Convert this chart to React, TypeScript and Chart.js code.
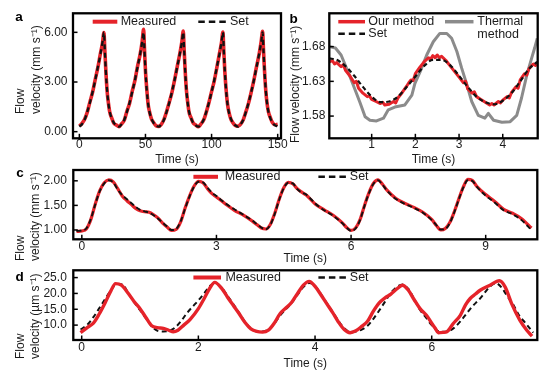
import React, { useEffect, useRef } from 'react';
import { Chart, registerables } from 'chart.js';

Chart.register(...registerables);

const FONT = "'Liberation Sans', Arial, Helvetica, sans-serif";
const RED = '#e5232a';
const BLACK = '#111111';
const GRAY = '#8b8b8b';
const TEXT = '#1c1c1c';

// ---------------- Panel a ----------------
const aTime = [
  0, 2, 4, 6, 8, 10, 12, 14, 16, 17.5, 18.6, 19.2, 20, 21, 22, 23, 24.5, 26, 28,
  30, 32, 34, 36, 38, 40, 42, 44, 46, 47.5, 48.6, 49.2, 50, 51, 52, 53, 54.5, 56, 58,
  60, 62, 64, 66, 68, 70, 72, 74, 76, 77.5, 78.6, 79.2, 80, 81, 82, 83, 84.5, 86, 88,
  90, 92, 94, 96, 98, 100, 102, 104, 106, 107.5, 108.6, 109.2, 110, 111, 112, 113, 114.5, 116, 118,
  120, 122, 124, 126, 128, 130, 132, 134, 136, 137.5, 138.6, 139.2, 140, 141, 142, 143, 144.5, 146, 148,
  150,
];
const aSet = [
  0.30, 0.45, 0.72, 1.20, 1.75, 2.40, 3.10, 3.90, 4.70, 5.40, 6.00, 5.00, 3.70, 2.50, 1.70, 1.20, 0.80, 0.55, 0.38,
  0.30, 0.45, 0.72, 1.20, 1.75, 2.40, 3.10, 3.90, 4.70, 5.40, 6.00, 5.00, 3.70, 2.50, 1.70, 1.20, 0.80, 0.55, 0.38,
  0.30, 0.45, 0.72, 1.20, 1.75, 2.40, 3.10, 3.90, 4.70, 5.40, 6.00, 5.00, 3.70, 2.50, 1.70, 1.20, 0.80, 0.55, 0.38,
  0.30, 0.45, 0.72, 1.20, 1.75, 2.40, 3.10, 3.90, 4.70, 5.40, 6.00, 5.00, 3.70, 2.50, 1.70, 1.20, 0.80, 0.55, 0.38,
  0.30, 0.45, 0.72, 1.20, 1.75, 2.40, 3.10, 3.90, 4.70, 5.40, 6.00, 5.00, 3.70, 2.50, 1.70, 1.20, 0.80, 0.55, 0.38,
  0.32,
];
const aMeasured = [
  0.34, 0.50, 0.75, 1.18, 1.80, 2.38, 3.15, 3.88, 4.75, 5.35, 5.98, 5.05, 3.75, 2.45, 1.72, 1.18, 0.82, 0.52, 0.40,
  0.30, 0.48, 0.70, 1.24, 1.72, 2.45, 3.08, 3.95, 4.68, 5.45, 6.18, 5.10, 3.68, 2.55, 1.66, 1.22, 0.78, 0.57, 0.36,
  0.32, 0.44, 0.74, 1.22, 1.78, 2.36, 3.12, 3.92, 4.72, 5.42, 6.08, 5.02, 3.72, 2.48, 1.74, 1.16, 0.83, 0.54, 0.40,
  0.30, 0.47, 0.70, 1.18, 1.76, 2.42, 3.06, 3.88, 4.74, 5.38, 6.02, 4.96, 3.66, 2.52, 1.70, 1.22, 0.78, 0.56, 0.37,
  0.33, 0.46, 0.73, 1.21, 1.74, 2.40, 3.12, 3.93, 4.70, 5.44, 6.06, 5.04, 3.74, 2.46, 1.68, 1.20, 0.84, 0.55, 0.42,
  0.45,
];
const aXTicks = [0, 50, 100, 150];
const aXTickLabels = ['0', '50', '100', '150'];
const aYTicks = [0, 3, 6];
const aYTickLabels = ['0.00', '3.00', '6.00'];

// ---------------- Panel b ----------------
const bSetTime = [0.03, 0.2, 0.4, 0.6, 0.8, 1.0, 1.2, 1.4, 1.6, 1.8, 2.0, 2.2, 2.4, 2.6, 2.8, 3.0, 3.2, 3.4, 3.6, 3.8, 4.0, 4.2, 4.4, 4.6, 4.79];
const bSet = [1.663, 1.661, 1.652, 1.638, 1.622, 1.608, 1.600, 1.601, 1.608, 1.622, 1.637, 1.652, 1.661, 1.661, 1.653, 1.638, 1.622, 1.608, 1.600, 1.597, 1.602, 1.613, 1.630, 1.648, 1.658];
const bOurTime = [
  0.03, 0.1, 0.15, 0.2, 0.3, 0.35, 0.4, 0.5, 0.6, 0.65, 0.7, 0.8, 0.9, 0.95, 1.0, 1.1, 1.2, 1.25, 1.3, 1.4,
  1.5, 1.55, 1.6, 1.7, 1.8, 1.85, 1.9, 1.95, 2.0, 2.1, 2.2, 2.3, 2.35, 2.4, 2.45, 2.5, 2.55, 2.6, 2.7, 2.8,
  2.9, 3.0, 3.1, 3.15, 3.2, 3.3, 3.35, 3.4, 3.5, 3.6, 3.7, 3.75, 3.8, 3.9, 3.95, 4.0, 4.1, 4.15, 4.2, 4.3,
  4.35, 4.4, 4.5, 4.55, 4.6, 4.7, 4.75, 4.79,
];
const bOur = [
  1.658, 1.660, 1.655, 1.657, 1.651, 1.654, 1.646, 1.638, 1.628, 1.630, 1.620, 1.613, 1.608, 1.609, 1.604, 1.601, 1.598, 1.600, 1.596, 1.597,
  1.601, 1.599, 1.606, 1.614, 1.623, 1.628, 1.632, 1.631, 1.641, 1.650, 1.658, 1.664, 1.662, 1.667, 1.664, 1.668, 1.664, 1.666, 1.660, 1.652,
  1.644, 1.636, 1.628, 1.630, 1.619, 1.613, 1.615, 1.608, 1.604, 1.600, 1.596, 1.598, 1.596, 1.601, 1.599, 1.603, 1.608, 1.606, 1.614, 1.622,
  1.620, 1.632, 1.641, 1.639, 1.648, 1.655, 1.653, 1.657,
];
const bThermTime = [0.03, 0.17, 0.3, 0.47, 0.62, 0.73, 0.85, 0.96, 1.11, 1.27, 1.38, 1.53, 1.76, 1.92, 1.99, 2.11, 2.26, 2.41, 2.56, 2.72, 2.83, 2.95, 3.06, 3.18, 3.29, 3.44, 3.59, 3.67, 3.79, 3.98, 4.17, 4.32, 4.43, 4.55, 4.66, 4.73, 4.79];
const bThermal = [1.680, 1.678, 1.668, 1.642, 1.618, 1.600, 1.579, 1.574, 1.573, 1.577, 1.589, 1.593, 1.596, 1.610, 1.627, 1.644, 1.668, 1.687, 1.699, 1.699, 1.692, 1.673, 1.649, 1.625, 1.601, 1.581, 1.577, 1.584, 1.574, 1.571, 1.572, 1.581, 1.606, 1.639, 1.663, 1.678, 1.692];
const bXTicks = [1, 2, 3, 4];
const bXTickLabels = ['1', '2', '3', '4'];
const bYTicks = [1.58, 1.63, 1.68];
const bYTickLabels = ['1.58', '1.63', '1.68'];

// ---------------- Panel c ----------------
const cTime = [
  -0.12, 0, 0.1, 0.2, 0.3, 0.4, 0.5, 0.6, 0.7, 0.8, 0.9, 1.0, 1.1, 1.2, 1.3, 1.4, 1.5, 1.6, 1.7, 1.8, 1.9, 2.0,
  2.1, 2.2, 2.3, 2.4, 2.5, 2.6, 2.7, 2.8, 2.9, 3.0, 3.2, 3.4, 3.6, 3.8, 3.9, 4.0, 4.1,
  4.2, 4.3, 4.4, 4.5, 4.6, 4.7, 4.8, 4.9, 5.0, 5.2, 5.4, 5.6, 5.8, 5.9, 6.0,
  6.1, 6.2, 6.3, 6.4, 6.5, 6.6, 6.7, 6.8, 7.0, 7.2, 7.4, 7.6, 7.8, 7.9, 8.0,
  8.1, 8.2, 8.3, 8.4, 8.5, 8.6, 8.7, 8.8, 9.0, 9.2, 9.4, 9.6, 9.8, 10.02,
];
const cSet = [
  0.98, 0.99, 1.03, 1.22, 1.52, 1.79, 1.95, 2.01, 1.97, 1.82, 1.71, 1.63, 1.55, 1.47, 1.41, 1.38, 1.35, 1.30, 1.23, 1.15, 1.07, 1.00,
  1.02, 1.17, 1.43, 1.68, 1.88, 1.98, 1.97, 1.86, 1.76, 1.69, 1.54, 1.42, 1.31, 1.19, 1.12, 1.05, 1.01,
  1.10, 1.33, 1.62, 1.85, 1.96, 1.95, 1.83, 1.76, 1.72, 1.54, 1.40, 1.29, 1.14, 1.05, 0.98,
  1.03, 1.20, 1.49, 1.75, 1.94, 2.01, 1.92, 1.80, 1.63, 1.53, 1.45, 1.35, 1.20, 1.10, 1.01,
  1.02, 1.14, 1.36, 1.62, 1.86, 2.01, 2.00, 1.88, 1.70, 1.56, 1.40, 1.32, 1.20, 1.00,
];
const cMeasured = [
  0.97, 0.98, 1.02, 1.21, 1.53, 1.80, 1.96, 2.02, 1.98, 1.84, 1.69, 1.60, 1.52, 1.44, 1.39, 1.37, 1.36, 1.31, 1.24, 1.14, 1.06, 0.99,
  1.01, 1.16, 1.44, 1.69, 1.89, 1.99, 1.96, 1.84, 1.74, 1.67, 1.53, 1.40, 1.30, 1.18, 1.11, 1.04, 1.02,
  1.11, 1.34, 1.63, 1.86, 1.97, 1.94, 1.84, 1.77, 1.71, 1.53, 1.41, 1.30, 1.15, 1.05, 0.99,
  1.04, 1.21, 1.50, 1.76, 1.95, 2.02, 1.93, 1.81, 1.64, 1.54, 1.46, 1.36, 1.21, 1.09, 1.00,
  1.03, 1.15, 1.37, 1.63, 1.87, 2.03, 2.01, 1.89, 1.72, 1.58, 1.42, 1.34, 1.23, 1.04,
];
const cXTicks = [0, 3, 6, 9];
const cXTickLabels = ['0', '3', '6', '9'];
const cYTicks = [1, 1.5, 2];
const cYTickLabels = ['1.00', '1.50', '2.00'];

// ---------------- Panel d ----------------
const dSetTime = [
  -0.02, 0.1, 0.2, 0.3, 0.4, 0.5, 0.6, 0.7, 0.8, 0.9, 1.0, 1.1, 1.2, 1.3, 1.4, 1.5, 1.6, 1.7, 1.8, 1.9,
  2.0, 2.1, 2.2, 2.3, 2.4, 2.5, 2.6, 2.7, 2.8, 2.9, 3.0, 3.1, 3.2, 3.3, 3.4, 3.5, 3.6, 3.7, 3.8, 3.9,
  4.0, 4.1, 4.2, 4.3, 4.4, 4.5, 4.6, 4.7, 4.8, 4.9, 5.0, 5.1, 5.2, 5.3, 5.4, 5.5, 5.6, 5.7, 5.8, 5.9,
  6.0, 6.1, 6.2, 6.3, 6.4, 6.5, 6.6, 6.7, 6.8, 6.9, 7.0, 7.1, 7.2, 7.3, 7.4, 7.5, 7.6, 7.74,
];
const dSet = [
  8.6, 10.2, 12.5, 15.3, 18.2, 21.0, 23.0, 22.8, 20.0, 17.2, 14.7, 12.2, 9.6, 8.2, 8.0, 8.2, 9.2, 11.2, 13.7, 15.8,
  17.8, 20.0, 22.4, 23.2, 21.8, 19.2, 16.6, 13.8, 11.0, 9.0, 8.0, 8.0, 8.6, 10.4, 13.0, 15.0, 17.0, 19.6, 22.0, 23.3,
  22.4, 19.8, 17.0, 14.2, 11.4, 9.0, 7.9, 8.0, 8.6, 9.8, 12.0, 14.6, 17.4, 20.2, 22.0, 22.8, 21.4, 18.2, 14.8, 12.4,
  10.0, 8.2, 7.9, 8.2, 9.4, 11.4, 13.7, 16.0, 17.8, 20.0, 22.2, 23.2, 21.8, 19.0, 16.4, 13.0, 10.8, 7.6,
];
const dMeasTime = [
  -0.02, 0.1, 0.2, 0.3, 0.4, 0.5, 0.58, 0.68, 0.8, 0.9, 1.0, 1.1, 1.2, 1.3, 1.4, 1.5, 1.57, 1.65, 1.75, 1.86,
  2.0, 2.1, 2.2, 2.28, 2.4, 2.5, 2.6, 2.7, 2.8, 2.9, 3.0, 3.1, 3.2, 3.3, 3.4, 3.5, 3.6, 3.7, 3.8, 3.9,
  4.0, 4.1, 4.2, 4.3, 4.4, 4.5, 4.6, 4.7, 4.8, 4.9, 5.0, 5.1, 5.2, 5.3, 5.4, 5.5, 5.6, 5.7, 5.8, 5.91,
  6.0, 6.06, 6.11, 6.2, 6.26, 6.37, 6.49, 6.58, 6.66, 6.75, 6.83, 7.0, 7.16, 7.26, 7.37, 7.51, 7.63, 7.72,
];
const dMeasured = [
  7.6, 9.3, 10.6, 13.5, 17.0, 20.8, 23.1, 22.6, 20.0, 17.4, 15.2, 12.4, 9.8, 9.2, 9.0, 8.3, 7.9, 8.4, 10.0, 11.8,
  15.2, 18.4, 21.8, 23.5, 21.6, 18.8, 16.2, 13.6, 10.8, 8.8, 8.0, 7.8, 8.4, 10.6, 13.6, 15.4, 17.2, 20.0, 22.6, 23.8,
  22.2, 19.6, 16.8, 14.0, 11.0, 8.6, 7.6, 8.2, 9.6, 11.2, 14.4, 17.0, 18.6, 19.8, 21.4, 22.6, 21.0, 18.0, 15.2, 13.1,
  10.6, 9.0, 7.6, 7.7, 7.9, 10.5, 13.1, 16.4, 18.4, 19.8, 21.0, 22.6, 24.0, 22.0, 16.8, 11.6, 8.4, 6.5,
];
const dXTicks = [0, 2, 4, 6];
const dXTickLabels = ['0', '2', '4', '6'];
const dYTicks = [10, 15, 20, 25];
const dYTickLabels = ['10.0', '15.0', '20.0', '25.0'];

const X_TITLE = 'Time (s)';
const Y_TITLE_MM = ['Flow', 'velocity (mm s\u207B\u00B9)'];
const Y_TITLE_B = ['Flow velocity (mm s\u207B\u00B9)'];
const Y_TITLE_UM = ['Flow', 'velocity (\u00B5m s\u207B\u00B9)'];

// ---------------- helpers ----------------
function series(xs: number[], ys: number[], color: string, width: number, dash: number[], order: number, smooth: boolean) {
  const n = Math.min(xs.length, ys.length);
  const data = [] as { x: number; y: number }[];
  for (let i = 0; i < n; i++) data.push({ x: xs[i], y: ys[i] });
  return {
    data,
    borderColor: color,
    backgroundColor: color,
    borderWidth: width,
    borderDash: dash,
    borderCapStyle: 'butt',
    borderJoinStyle: 'round',
    pointRadius: 0,
    fill: false,
    order,
    cubicInterpolationMode: smooth ? 'monotone' : 'default',
    tension: 0,
  };
}

const PANELS: any[] = [
  {
    key: 'a',
    box: { x: 0, y: 0, w: 300, h: 172 },
    padding: { left: 0, top: 13.3, right: 19, bottom: 5.3 },
    yAxisWidth: 73, xAxisHeight: 28.4,
    xMin: -4.8, xMax: 152.5, yMin: -0.4, yMax: 7.15,
    xTicks: aXTicks, xTickLabels: aXTickLabels, yTicks: aYTicks, yTickLabels: aYTickLabels,
    xTickPad: 0.2, yTickPad: 5.5,
    datasets: [
      series(aTime, aSet, BLACK, 2.3, [5, 3.5], 0, true),
      series(aTime, aMeasured, RED, 3.6, [], 1, true),
    ],
    yTitle: { lines: Y_TITLE_MM, xs: [21, 36.5], yStart: 114 },
    letter: { text: 'a', x: 19, y: 17 },
    legend: [
      { label: ['Measured'], color: RED, width: 4, dash: [], x1: 92.7, x2: 117.3, y: 21.7, tx: 120.7 },
      { label: ['Set'], color: BLACK, width: 2.5, dash: [6.5, 4], x1: 198.3, x2: 226.7, y: 21.7, tx: 230 },
    ],
  },
  {
    key: 'b',
    box: { x: 280, y: 0, w: 276, h: 172 },
    padding: { left: 0, top: 13.3, right: 18.3, bottom: 5.3 },
    yAxisWidth: 49.3, xAxisHeight: 28.4,
    xMin: 0.03, xMax: 4.8, yMin: 1.548, yMax: 1.728,
    xTicks: bXTicks, xTickLabels: bXTickLabels, yTicks: bYTicks, yTickLabels: bYTickLabels,
    xTickPad: 0.2, yTickPad: 4,
    datasets: [
      series(bSetTime, bSet, BLACK, 2.2, [4.5, 3], 0, true),
      series(bOurTime, bOur, RED, 3, [], 1, false),
      series(bThermTime, bThermal, GRAY, 3, [], 2, false),
    ],
    yTitle: { lines: Y_TITLE_B, xs: [295.5], yStart: 143 },
    letter: { text: 'b', x: 293.5, y: 19 },
    legend: [
      { label: ['Our method'], color: RED, width: 3.5, dash: [], x1: 338.3, x2: 365, y: 21.7, tx: 368.3 },
      { label: ['Set'], color: BLACK, width: 2.5, dash: [6.5, 4], x1: 338.3, x2: 365, y: 33.7, tx: 368.3 },
      { label: ['Thermal', 'method'], color: GRAY, width: 3.5, dash: [], x1: 445, x2: 473.5, y: 21.7, tx: 477.3 },
    ],
  },
  {
    key: 'c',
    box: { x: 0, y: 150, w: 556, h: 117 },
    padding: { left: 0, top: 20, right: 18.7, bottom: 0.8 },
    yAxisWidth: 73.3, xAxisHeight: 26.9,
    xMin: -0.19, xMax: 10.15, yMin: 0.81, yMax: 2.22,
    xTicks: cXTicks, xTickLabels: cXTickLabels, yTicks: cYTicks, yTickLabels: cYTickLabels,
    xTickPad: 1.4, yTickPad: 6.5,
    datasets: [
      series(cTime, cSet, BLACK, 1.9, [5, 3], 0, true),
      series(cTime, cMeasured, RED, 3.2, [], 1, true),
    ],
    yTitle: { lines: Y_TITLE_MM, xs: [21, 36], yStart: 261 },
    letter: { text: 'c', x: 20, y: 173.5 },
    legend: [
      { label: ['Measured'], color: RED, width: 4, dash: [], x1: 193.4, x2: 218, y: 176.8, tx: 224.8 },
      { label: ['Set'], color: BLACK, width: 2.5, dash: [6.5, 4], x1: 318.4, x2: 346, y: 176.8, tx: 349.8 },
    ],
  },
  {
    key: 'd',
    box: { x: 0, y: 250, w: 556, h: 126 },
    padding: { left: 0, top: 20.3, right: 18.7, bottom: 4.8 },
    yAxisWidth: 73.3, xAxisHeight: 31.2,
    xMin: -0.144, xMax: 7.81, yMin: 5.3, yMax: 27.3,
    xTicks: dXTicks, xTickLabels: dXTickLabels, yTicks: dYTicks, yTickLabels: dYTickLabels,
    xTickPad: 1.7, yTickPad: 6.5,
    datasets: [
      series(dMeasTime, dMeasured, RED, 3.4, [], 0, true),
      series(dSetTime, dSet, BLACK, 2, [5, 3.5], 1, true),
    ],
    yTitle: { lines: Y_TITLE_UM, xs: [21, 35.5], yStart: 359 },
    letter: { text: 'd', x: 19.5, y: 277.5 },
    legend: [
      { label: ['Measured'], color: RED, width: 4, dash: [], x1: 193.4, x2: 221, y: 277.5, tx: 225.4 },
      { label: ['Set'], color: BLACK, width: 2.5, dash: [6.5, 4], x1: 318.4, x2: 346, y: 277.5, tx: 349.8 },
    ],
  },
];

function decorPlugin(p: any) {
  return {
    id: 'decor',
    afterDraw(chart: any) {
      const ctx = chart.ctx as CanvasRenderingContext2D;
      const a = chart.chartArea;
      const ox = p.box.x;
      const oy = p.box.y;
      const xs = chart.scales.x;
      const ys = chart.scales.y;
      ctx.save();
      ctx.setLineDash([]);
      ctx.strokeStyle = '#000';
      ctx.lineWidth = 1.5;
      p.xTicks.forEach((v: number) => {
        const px = xs.getPixelForValue(v);
        ctx.beginPath();
        ctx.moveTo(px, a.bottom);
        ctx.lineTo(px, a.bottom - 4.5);
        ctx.stroke();
      });
      p.yTicks.forEach((v: number) => {
        const py = ys.getPixelForValue(v);
        ctx.beginPath();
        ctx.moveTo(a.left, py);
        ctx.lineTo(a.left + 4.5, py);
        ctx.stroke();
      });
      ctx.lineWidth = 2.3;
      ctx.strokeRect(a.left, a.top, a.right - a.left, a.bottom - a.top);

      // legend
      ctx.font = `12.5px ${FONT}`;
      ctx.fillStyle = TEXT;
      ctx.textAlign = 'left';
      ctx.textBaseline = 'middle';
      p.legend.forEach((it: any) => {
        ctx.save();
        ctx.strokeStyle = it.color;
        ctx.lineWidth = it.width;
        ctx.lineCap = 'butt';
        ctx.setLineDash(it.dash);
        ctx.beginPath();
        ctx.moveTo(it.x1 - ox, it.y - oy);
        ctx.lineTo(it.x2 - ox, it.y - oy);
        ctx.stroke();
        ctx.restore();
        it.label.forEach((t: string, i: number) => {
          ctx.fillText(t, it.tx - ox, it.y - oy + i * 13);
        });
      });

      // y title (rotated)
      ctx.font = `12px ${FONT}`;
      p.yTitle.lines.forEach((t: string, i: number) => {
        ctx.save();
        ctx.translate(p.yTitle.xs[i] - ox, p.yTitle.yStart - oy);
        ctx.rotate(-Math.PI / 2);
        ctx.textAlign = 'left';
        ctx.textBaseline = 'middle';
        ctx.fillText(t, 0, 0);
        ctx.restore();
      });

      // panel letter
      ctx.font = `bold 13.5px ${FONT}`;
      ctx.textAlign = 'center';
      ctx.textBaseline = 'middle';
      ctx.fillStyle = '#000';
      ctx.fillText(p.letter.text, p.letter.x - ox, p.letter.y - oy);
      ctx.restore();
    },
  };
}

function buildConfig(p: any): any {
  return {
    type: 'line',
    data: { datasets: p.datasets },
    options: {
      responsive: false,
      animation: false,
      devicePixelRatio: 1,
      layout: { padding: p.padding },
      plugins: { legend: { display: false }, tooltip: { enabled: false }, title: { display: false } },
      scales: {
        x: {
          type: 'linear',
          min: p.xMin,
          max: p.xMax,
          afterBuildTicks: (s: any) => { s.ticks = p.xTicks.map((v: number) => ({ value: v })); },
          afterFit: (s: any) => { s.height = p.xAxisHeight; },
          grid: { display: false, drawTicks: false },
          border: { display: false },
          ticks: {
            autoSkip: false, maxRotation: 0, minRotation: 0,
            padding: p.xTickPad, color: TEXT,
            font: { family: FONT, size: 12, lineHeight: 1 },
            callback: (v: number) => p.xTickLabels[p.xTicks.indexOf(v)],
          },
          title: { display: true, text: X_TITLE, color: TEXT, padding: 0, font: { family: FONT, size: 12, lineHeight: 1.2 } },
        },
        y: {
          type: 'linear',
          min: p.yMin,
          max: p.yMax,
          afterBuildTicks: (s: any) => { s.ticks = p.yTicks.map((v: number) => ({ value: v })); },
          afterFit: (s: any) => { s.width = p.yAxisWidth; },
          grid: { display: false, drawTicks: false },
          border: { display: false },
          ticks: {
            autoSkip: false, padding: p.yTickPad, color: TEXT,
            font: { family: FONT, size: 12, lineHeight: 1 },
            callback: (v: number) => p.yTickLabels[p.yTicks.indexOf(v)],
          },
          title: { display: false },
        },
      },
    },
    plugins: [decorPlugin(p)],
  };
}

function PanelChart({ spec }: { spec: any }) {
  const ref = useRef<HTMLCanvasElement>(null);
  useEffect(() => {
    const chart = new Chart(ref.current as HTMLCanvasElement, buildConfig(spec));
    return () => chart.destroy();
  }, [spec]);
  return (
    <canvas
      ref={ref}
      width={spec.box.w}
      height={spec.box.h}
      style={{ position: 'absolute', left: spec.box.x, top: spec.box.y, width: spec.box.w, height: spec.box.h }}
    />
  );
}

export default function App() {
  return (
    <div style={{ position: 'absolute', left: 0, top: 0, width: 556, height: 376, background: '#ffffff', overflow: 'hidden' }}>
      {PANELS.map((p) => (
        <PanelChart key={p.key} spec={p} />
      ))}
    </div>
  );
}
